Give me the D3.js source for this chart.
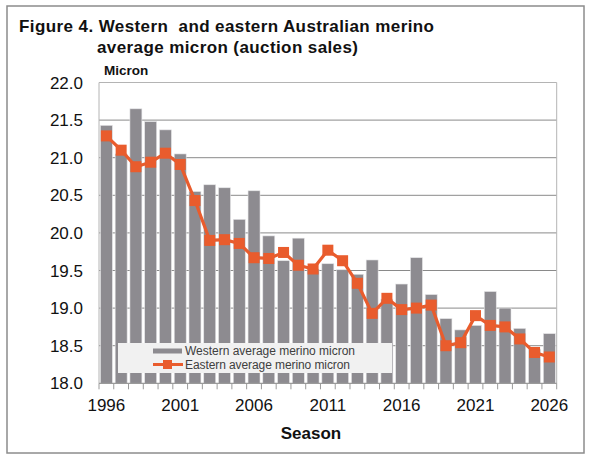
<!DOCTYPE html>
<html>
<head>
<meta charset="utf-8">
<script src="https://cdn.jsdelivr.net/npm/d3@7"></script>
<style>
  body { margin: 0; background: #fff; }
  svg { display: block; font-family: "Liberation Sans", Arial, sans-serif; }
  .title { white-space: pre; }
</style>
</head>
<body>
<svg class="chart"></svg>
<script>
var seasons = d3.range(1996, 2027);

// Western average merino micron (bars)
var westMicron = [21.43, 21.05, 21.65, 21.48, 21.37, 21.05, 20.55, 20.64, 20.60, 20.18,
  20.56, 19.96, 19.63, 19.93, 19.52, 19.59, 19.51, 19.45, 19.64, 19.12,
  19.32, 19.67, 19.18, 18.86, 18.71, 18.77, 19.22, 19.00, 18.73, 18.45, 18.66];

// Eastern average merino micron (line)
var eastMicron = [21.29, 21.10, 20.88, 20.94, 21.06, 20.91, 20.43, 19.90, 19.91, 19.86,
  19.67, 19.66, 19.74, 19.57, 19.52, 19.77, 19.63, 19.33, 18.93, 19.13,
  18.98, 19.00, 19.04, 18.50, 18.54, 18.90, 18.77, 18.75, 18.59, 18.41, 18.35];

var yTicks = [18.0, 18.5, 19.0, 19.5, 20.0, 20.5, 21.0, 21.5, 22.0];
var xLabels = [1996, 2001, 2006, 2011, 2016, 2021, 2026];

var W = 596, H = 462;
var plot = { left: 99, right: 556.7, top: 82.5, bottom: 383.3 };

var svg = d3.select('svg.chart')
  .attr('width', W)
  .attr('height', H);

// outer frame
svg.append('rect')
  .attr('x', 7).attr('y', 6)
  .attr('width', 577).attr('height', 447)
  .attr('fill', '#fff')
  .attr('stroke', '#8c8c8c')
  .attr('stroke-width', 1.5);

var x = d3.scaleBand()
  .domain(seasons)
  .range([plot.left, plot.right])
  .paddingInner(0.19)
  .paddingOuter(0.095);

var y = d3.scaleLinear()
  .domain([18, 22])
  .range([plot.bottom, plot.top]);

// gridlines
svg.append('g')
  .selectAll('line')
  .data(yTicks.slice(1, -1))
  .enter().append('line')
  .attr('x1', plot.left).attr('x2', plot.right)
  .attr('y1', function (d) { return y(d); })
  .attr('y2', function (d) { return y(d); })
  .attr('stroke', '#8a8a8a')
  .attr('stroke-width', 1);

// plot border (top, left, right)
svg.append('path')
  .attr('d', 'M' + plot.left + ',' + plot.bottom + 'V' + plot.top + 'H' + plot.right + 'V' + plot.bottom)
  .attr('fill', 'none')
  .attr('stroke', '#b4b4b4')
  .attr('stroke-width', 1);

// bars
svg.append('g')
  .selectAll('rect')
  .data(westMicron)
  .enter().append('rect')
  .attr('x', function (d, i) { return x(seasons[i]); })
  .attr('width', x.bandwidth())
  .attr('y', function (d) { return y(d); })
  .attr('height', function (d) { return y(18) - y(d); })
  .attr('fill', '#8d8b90')
  .attr('stroke', '#e4e4e6')
  .attr('stroke-width', 0.6);

// x axis line + ticks at category boundaries
var step = x.step();
var tickPos = d3.range(seasons.length + 1).map(function (i) { return plot.left + i * step; });

svg.append('line')
  .attr('x1', plot.left).attr('x2', plot.right)
  .attr('y1', plot.bottom).attr('y2', plot.bottom)
  .attr('stroke', '#9a9a9a')
  .attr('stroke-width', 1.2);

svg.append('g')
  .selectAll('line')
  .data(tickPos)
  .enter().append('line')
  .attr('x1', function (d) { return d; })
  .attr('x2', function (d) { return d; })
  .attr('y1', plot.bottom)
  .attr('y2', plot.bottom + 6)
  .attr('stroke', '#9a9a9a')
  .attr('stroke-width', 1);

// x labels
svg.append('g')
  .selectAll('text')
  .data(xLabels)
  .enter().append('text')
  .attr('x', function (d) { return x(d) + x.bandwidth() / 2; })
  .attr('y', 411)
  .attr('text-anchor', 'middle')
  .attr('font-size', 17)
  .attr('fill', '#111')
  .text(function (d) { return d; });

// y labels
svg.append('g')
  .selectAll('text')
  .data(yTicks)
  .enter().append('text')
  .attr('x', 83)
  .attr('y', function (d) { return y(d) + 6; })
  .attr('text-anchor', 'end')
  .attr('font-size', 17)
  .attr('fill', '#111')
  .text(function (d) { return d.toFixed(1); });

// legend (sits over bars)
var lg = svg.append('g');
lg.append('rect')
  .attr('x', 118).attr('y', 343)
  .attr('width', 274).attr('height', 30)
  .attr('fill', '#f1f1f1');
lg.append('rect')
  .attr('x', 153).attr('y', 348.5)
  .attr('width', 29).attr('height', 5)
  .attr('fill', '#8d8b90');
lg.append('line')
  .attr('x1', 153).attr('x2', 183)
  .attr('y1', 364.5).attr('y2', 364.5)
  .attr('stroke', '#e95c2d')
  .attr('stroke-width', 3);
lg.append('rect')
  .attr('x', 163).attr('y', 360)
  .attr('width', 9).attr('height', 9)
  .attr('fill', '#e95c2d');
lg.append('text')
  .attr('x', 185).attr('y', 355)
  .attr('font-size', 12)
  .attr('fill', '#404040')
  .attr('textLength', 170)
  .text('Western average merino micron');
lg.append('text')
  .attr('x', 185).attr('y', 369)
  .attr('font-size', 12)
  .attr('fill', '#404040')
  .attr('textLength', 165)
  .text('Eastern average merino micron');

// eastern line + markers
var line = d3.line()
  .x(function (d, i) { return x(seasons[i]) + x.bandwidth() / 2; })
  .y(function (d) { return y(d); });

svg.append('path')
  .datum(eastMicron)
  .attr('d', line)
  .attr('fill', 'none')
  .attr('stroke', '#e95c2d')
  .attr('stroke-width', 3.2)
  .attr('stroke-linejoin', 'round');

var ms = 11;
svg.append('g')
  .selectAll('rect')
  .data(eastMicron)
  .enter().append('rect')
  .attr('x', function (d, i) { return x(seasons[i]) + x.bandwidth() / 2 - ms / 2; })
  .attr('y', function (d) { return y(d) - ms / 2; })
  .attr('width', ms).attr('height', ms)
  .attr('fill', '#e95c2d');

// titles
svg.append('text')
  .attr('class', 'title')
  .attr('x', 19).attr('y', 32)
  .attr('font-size', 17)
  .attr('font-weight', 'bold')
  .attr('fill', '#111')
  .attr('textLength', 415)
  .text('Figure 4. Western  and eastern Australian merino');
svg.append('text')
  .attr('class', 'title')
  .attr('x', 97).attr('y', 53)
  .attr('font-size', 17)
  .attr('font-weight', 'bold')
  .attr('fill', '#111')
  .attr('textLength', 261)
  .text('average micron (auction sales)');

svg.append('text')
  .attr('x', 104).attr('y', 75)
  .attr('font-size', 13.5)
  .attr('font-weight', 'bold')
  .attr('fill', '#111')
  .text('Micron');

svg.append('text')
  .attr('x', 311).attr('y', 439)
  .attr('text-anchor', 'middle')
  .attr('font-size', 17)
  .attr('font-weight', 'bold')
  .attr('fill', '#111')
  .text('Season');
</script>
</body>
</html>
